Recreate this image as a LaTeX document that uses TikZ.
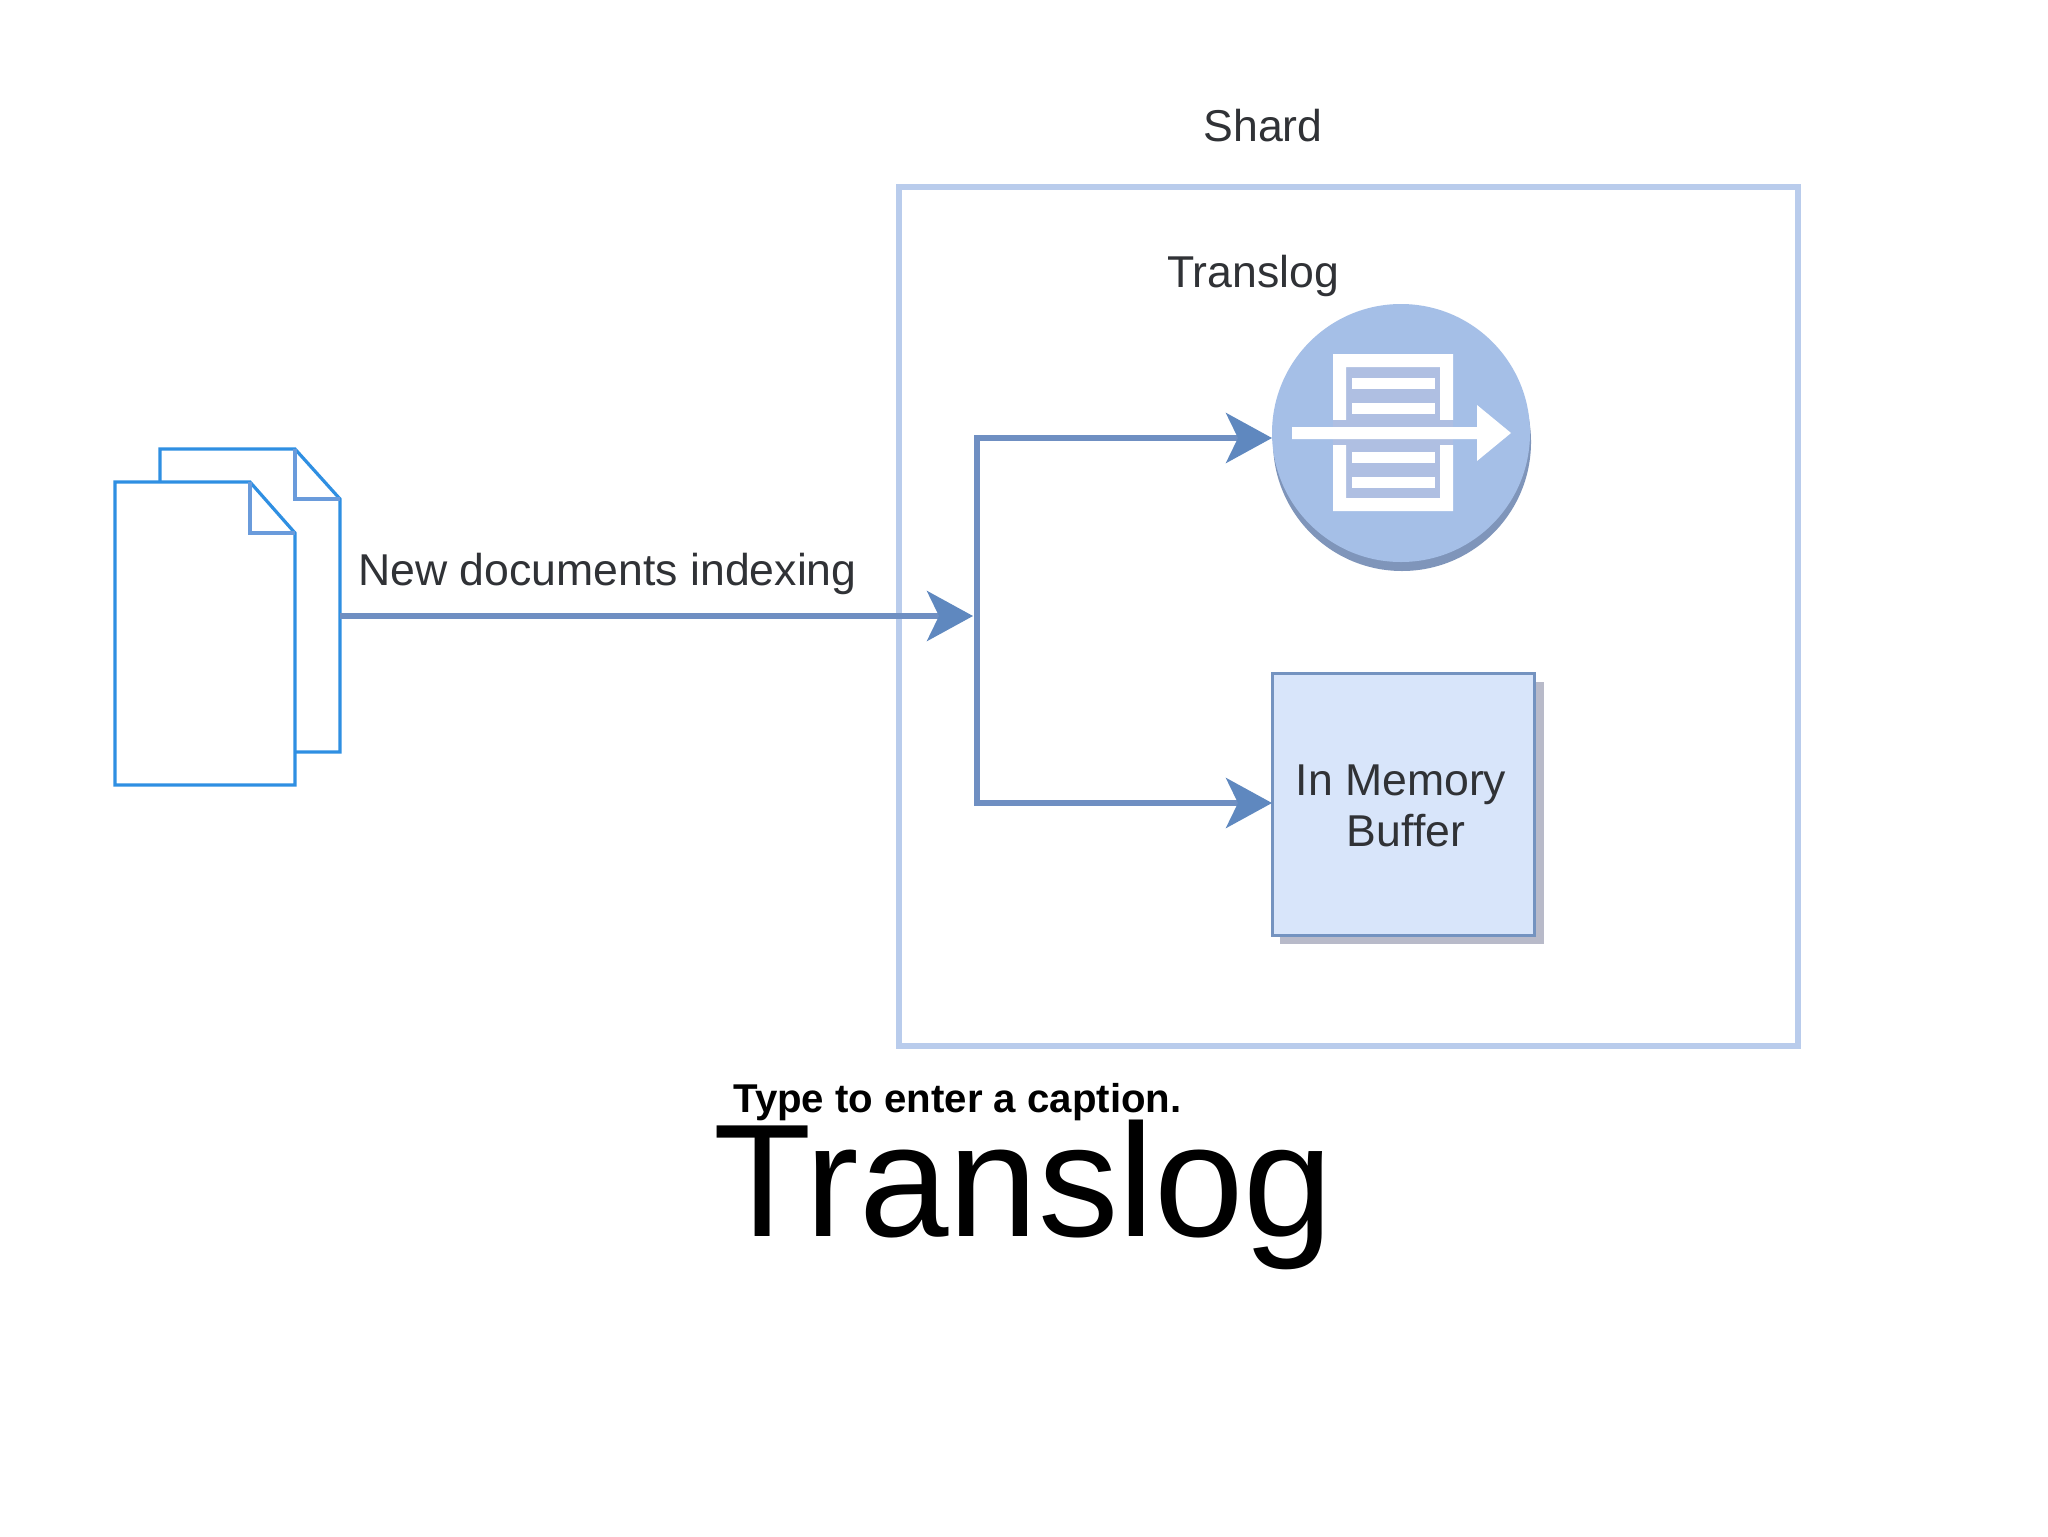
\documentclass[tikz,border=0pt]{standalone}
\usepackage{fontspec}
\setmainfont{Liberation Sans}
\usetikzlibrary{arrows.meta}
\definecolor{shardc}{HTML}{B9CCEC}
\definecolor{linkc}{HTML}{6F8FC2}
\definecolor{tipc}{HTML}{5F88BF}
\definecolor{docc}{HTML}{2F8FE2}
\definecolor{foldc}{HTML}{6A9BDB}
\definecolor{bufc}{HTML}{D8E5FA}
\definecolor{bufl}{HTML}{7493C0}
\definecolor{shadc}{HTML}{B8BAC9}
\definecolor{logc}{HTML}{A5BFE7}
\definecolor{logd}{HTML}{7F95BA}
\definecolor{logi}{HTML}{AFBFE2}
\definecolor{labelc}{HTML}{303236}
\tikzset{
  x=0.5pt,y=-0.5pt,
  lab/.style={font=\fontsize{22.3}{25}\selectfont,text=labelc,inner sep=0pt,anchor=base},
  link/.style={draw=linkc,line width=2.8pt,line join=miter},
  linkarrow/.style={link,-{Stealth[length=23pt,width=25pt,inset=6pt,color=tipc]}},
  docline/.style={draw=docc,line width=1.6pt,line join=miter},
  foldline/.style={draw=foldc,line width=1.6pt,line join=miter},
  docarea/.style={inner sep=0pt,outer sep=0pt,minimum width=90pt,minimum height=151.5pt},
  iconbar/.style={fill=white,draw=none},
}
\begin{document}
\begin{tikzpicture}
\useasboundingbox (0,0) rectangle (2048,1536);
\fill[white] (0,0) rectangle (2048,1536);
% shard
\node[draw=shardc,line width=3pt,inner sep=0pt,minimum width=449.5pt,minimum height=429.5pt] (shard) at (1348.5,616.5) {};
\node[lab] (shardlabel) at (1263,141) {Shard};
\node[lab] (loglabel) at (1253,287) {Translog};
% back document
\node[docarea] (docback) at (250,600.5) {};
\draw[docline,fill=white] (160,482) -- (160,449) -- (295,449) -- (340,499) -- (340,752) -- (295,752);
\draw[foldline] (295,449) -- (295,499) -- (340,499);
% front document
\node[docarea] (docfront) at (205,633.5) {};
\draw[docline,fill=white] (115,482) -- (250,482) -- (295,533) -- (295,785) -- (115,785) -- cycle;
\draw[foldline] (250,482) -- (250,533) -- (295,533);
% translog circle
\fill[logd] (1402,442) circle[radius=129];
\node[circle,fill=logc,inner sep=0pt,outer sep=0pt,minimum size=129pt] (log) at (1401,433) {};
\fill[logi] (1346,367) rectangle (1442,498);
\fill[iconbar] (1333,354) -- (1453,354) -- (1453,420) -- (1440,420) -- (1440,367) -- (1346,367) -- (1346,420) -- (1333,420) -- cycle;
\fill[iconbar] (1333,511) -- (1453,511) -- (1453,445) -- (1440,445) -- (1440,498) -- (1346,498) -- (1346,445) -- (1333,445) -- cycle;
\fill[iconbar] (1352,378) rectangle (1435,389);
\fill[iconbar] (1352,403) rectangle (1435,414);
\fill[iconbar] (1352,452) rectangle (1435,463);
\fill[iconbar] (1352,477) rectangle (1435,488);
\fill[logi] (1333,420) rectangle (1453,445);
\fill[iconbar] (1292,427) -- (1477,427) -- (1477,405) -- (1511,433) -- (1477,461) -- (1477,439) -- (1292,439) -- cycle;
% buffer
\fill[shadc] (1280,682) rectangle (1544,944);
\node[draw=bufl,fill=bufc,line width=1.5pt,inner sep=0pt,outer sep=0pt,minimum width=131pt,minimum height=131pt] (buffer) at (1403,804) {};
\node[lab] (buflabel1) at (1401,795) {In Memory};
\node[lab] (buflabel2) at (1406,846) {Buffer};
% connectors
\coordinate (split) at (977,616);
\coordinate (splittop) at (977,438);
\coordinate (splitbot) at (977,803);
\draw[link,line cap=rect] (splittop) -- (splitbot);
\draw[linkarrow] (docback.east |- split) -- ([xshift=-2pt]split);
\draw[linkarrow] (splittop) -- (log.west |- splittop);
\draw[linkarrow] (splitbot) -- (buffer.west |- splitbot);
\node[lab,anchor=base west] (newdocs) at (358,585) {New documents indexing};
% caption and title
\node[anchor=base west,inner sep=0pt,text=black,font=\fontsize{20.1}{24}\bfseries\selectfont] (caption) at (733,1112) {Type to enter a caption.};
\node[anchor=base west,inner sep=0pt,text=black,font=\fontsize{80.4}{90}\selectfont] (title) at (713,1236) {Translog};
\end{tikzpicture}
\end{document}
